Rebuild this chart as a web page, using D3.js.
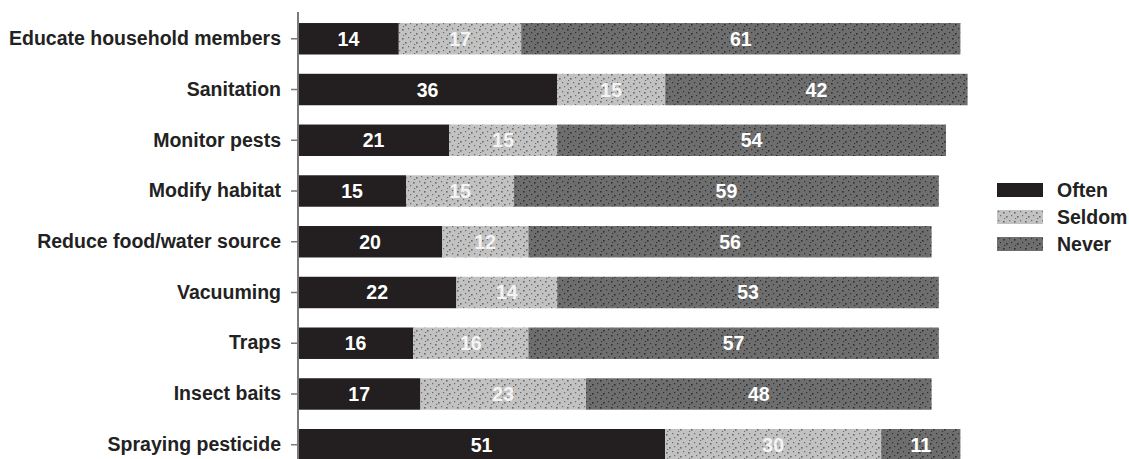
<!DOCTYPE html>
<html>
<head>
<meta charset="utf-8">
<script src="https://cdn.jsdelivr.net/npm/d3@7"></script>
<style>
  body { margin: 0; background: #fff; }
  svg { display: block; font-family: "Liberation Sans", Arial, sans-serif; }
</style>
</head>
<body>
<svg id="chart"></svg>
<script>
// data
const categories = [
  'Educate household members', 'Sanitation', 'Monitor pests', 'Modify habitat',
  'Reduce food/water source', 'Vacuuming', 'Traps', 'Insect baits', 'Spraying pesticide'
];
const series = ['Often', 'Seldom', 'Never'];
const often  = [14, 36, 21, 15, 20, 22, 16, 17, 51];
const seldom = [17, 15, 15, 15, 12, 14, 16, 23, 30];
const never  = [61, 42, 54, 59, 56, 53, 57, 48, 11];

const width = 1129;
const height = 459;

const rows = categories.map((c, i) => ({ cat: c, Often: often[i], Seldom: seldom[i], Never: never[i] }));
const stacked = d3.stack().keys(series)(rows);

const svg = d3.select('#chart')
  .attr('width', width)
  .attr('height', height);

// dotted textures for the two grey series
const defs = svg.append('defs');
function dots(id, base, dot) {
  const p = defs.append('pattern')
    .attr('id', id)
    .attr('patternUnits', 'userSpaceOnUse')
    .attr('width', 11)
    .attr('height', 9);
  p.append('rect').attr('width', 11).attr('height', 9).attr('fill', base);
  [[1, 1], [6, 2], [3, 5], [9, 6], [7, 8]].forEach(([x, y], k) => {
    p.append('rect')
      .attr('x', x).attr('y', y)
      .attr('width', k % 2 ? 1.6 : 1.2).attr('height', k % 2 ? 1.6 : 1.2)
      .attr('fill', dot);
  });
}
dots('seldomFill', '#c2c2c2', '#6a6a6a');
dots('neverFill', '#6e6e6e', '#303030');

const fills = { Often: '#231f20', Seldom: 'url(#seldomFill)', Never: 'url(#neverFill)' };

const x = d3.scaleLinear()
  .domain([0, 100])
  .range([298, 1018]);

const y = d3.scaleBand()
  .domain(categories)
  .range([13.4, 470.1])
  .paddingInner(0.38)
  .paddingOuter(0.19);

// bars
const layer = svg.append('g')
  .selectAll('g')
  .data(stacked)
  .enter()
  .append('g')
  .attr('fill', d => fills[d.key]);

layer.selectAll('rect')
  .data(d => d)
  .enter()
  .append('rect')
  .attr('x', d => x(d[0]))
  .attr('y', d => y(d.data.cat))
  .attr('width', d => x(d[1]) - x(d[0]))
  .attr('height', y.bandwidth());

// value labels
layer.selectAll('text')
  .data(d => d.map(v => ({ v, key: d.key })))
  .enter()
  .append('text')
  .attr('x', d => (x(d.v[0]) + x(d.v[1])) / 2)
  .attr('y', d => y(d.v.data.cat) + y.bandwidth() / 2 + 7)
  .attr('text-anchor', 'middle')
  .attr('fill', d => d.key === 'Seldom' ? '#f4f4f4' : '#fff')
  .attr('font-size', 19.5)
  .attr('font-weight', 'bold')
  .text(d => d.v.data[d.key]);

// category axis
const axis = svg.append('g')
  .attr('transform', `translate(${x(0)}, 0)`)
  .call(d3.axisLeft(y).tickSize(7).tickSizeOuter(0).tickPadding(10));

axis.select('.domain')
  .attr('stroke', '#7a7a7a')
  .attr('stroke-width', 2)
  .attr('d', `M0,12V${height}`);
axis.selectAll('.tick line').attr('stroke', '#7a7a7a').attr('stroke-width', 1.5);
axis.selectAll('.tick text')
  .attr('fill', '#222')
  .attr('font-size', 19.5)
  .attr('font-weight', 'bold')
  .attr('font-family', '"Liberation Sans", Arial, sans-serif');

// legend
const legend = svg.append('g')
  .attr('transform', 'translate(997, 183)')
  .selectAll('g')
  .data(series)
  .enter()
  .append('g')
  .attr('transform', (d, i) => `translate(0, ${i * 27})`);

legend.append('rect')
  .attr('width', 46)
  .attr('height', 14)
  .attr('fill', d => fills[d]);

legend.append('text')
  .attr('x', 60)
  .attr('y', 14)
  .attr('fill', '#222')
  .attr('font-size', 19.5)
  .attr('font-weight', 'bold')
  .text(d => d);
</script>
</body>
</html>
